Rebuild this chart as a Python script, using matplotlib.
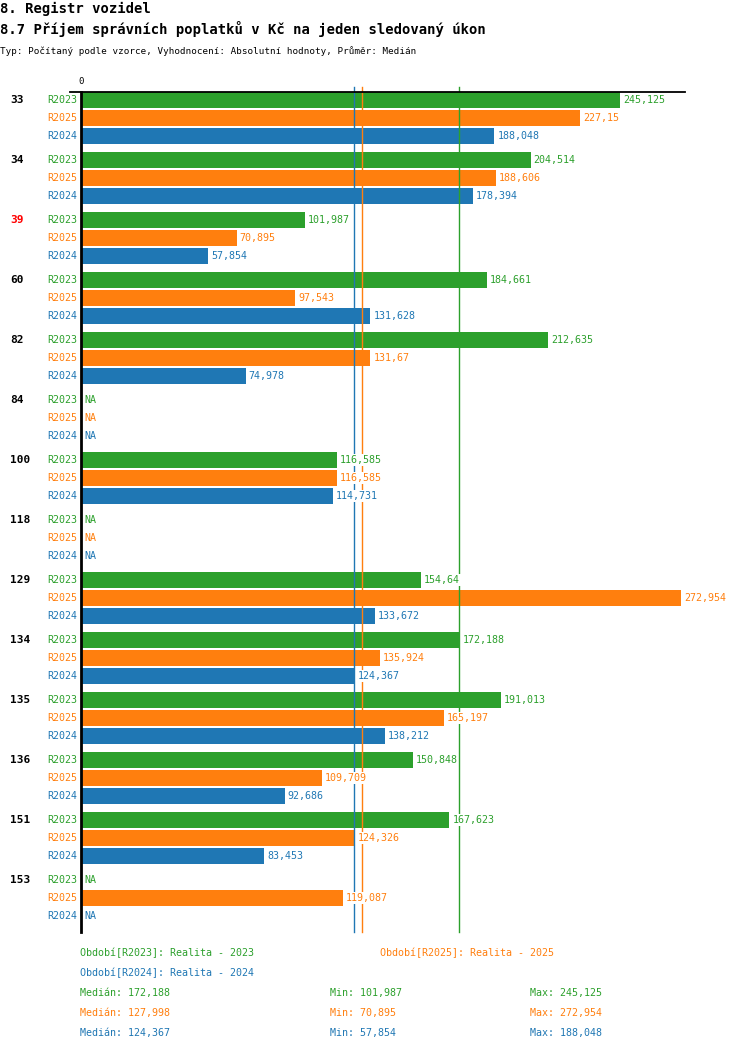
import numpy as np
import matplotlib
matplotlib.use("Agg")
import matplotlib.pyplot as plt
from matplotlib.lines import Line2D
from matplotlib.transforms import blended_transform_factory

# data (NaN = NA)
groups = ["33", "34", "39", "60", "82", "84", "100", "118", "129", "134", "135", "136", "151", "153"]
series = ["R2023", "R2025", "R2024"]
r2023 = [245.125, 204.514, 101.987, 184.661, 212.635, np.nan, 116.585, np.nan, 154.64, 172.188, 191.013, 150.848, 167.623, np.nan]
r2025 = [227.15, 188.606, 70.895, 97.543, 131.67, np.nan, 116.585, np.nan, 272.954, 135.924, 165.197, 109.709, 124.326, 119.087]
r2024 = [188.048, 178.394, 57.854, 131.628, 74.978, np.nan, 114.731, np.nan, 133.672, 124.367, 138.212, 92.686, 83.453, np.nan]
legend_names = ["Období[R2023]: Realita - 2023", "Období[R2025]: Realita - 2025", "Období[R2024]: Realita - 2024"]
highlight = "39"

colors = {"R2023": "#2ca02c", "R2025": "#ff7f0e", "R2024": "#1f77b4"}
values = {"R2023": r2023, "R2025": r2025, "R2024": r2024}
mono = "DejaVu Sans Mono"

W, H = 750, 1052
fig = plt.figure(figsize=(W / 100, H / 100), dpi=100)


def fmt(v):
    s = f"{v:.3f}".rstrip("0").rstrip(".")
    return s.replace(".", ",")


# axes placed in pixel terms
ax_l, ax_r, ax_t, ax_b = 81, 685, 92, 932
ax = fig.add_axes([ax_l / W, 1 - ax_b / H, (ax_r - ax_l) / W, (ax_b - ax_t) / H])
scale = 600 / 272.954  # px per unit
ax.set_xlim(0, (ax_r - ax_l) / scale)
ax.set_ylim(ax_b - 100, ax_t - 100)
for s in ["top", "right", "bottom"]:
    ax.spines[s].set_visible(False)
ax.spines["left"].set_linewidth(2)
ax.spines["left"].set_zorder(5)
ax.set_xticks([])
ax.set_yticks([])

group_tr = blended_transform_factory(fig.transFigure, ax.transData)

for gi, g in enumerate(groups):
    base = gi * 60
    ax.text(10 / W, base, g, transform=group_tr, ha="left", va="center",
            fontsize=8, fontweight="bold", family=mono,
            color="#ff0000" if g == highlight else "black")
    for si, s in enumerate(series):
        y = base + si * 18
        v = values[s][gi]
        c = colors[s]
        ax.annotate(s, xy=(0, y), xytext=(-4, 0), textcoords="offset pixels",
                    ha="right", va="center", fontsize=7.2, family=mono, color=c,
                    annotation_clip=False)
        if np.isnan(v):
            ax.annotate("NA", xy=(0, y), xytext=(3, 0), textcoords="offset pixels",
                        ha="left", va="center", fontsize=7.2, family=mono, color=c,
                        zorder=4, bbox=dict(facecolor="white", edgecolor="none", pad=0.5))
        else:
            ax.barh(y, v, height=16, color=c, zorder=1)
            ax.annotate(fmt(v), xy=(v, y), xytext=(3, 0), textcoords="offset pixels",
                        ha="left", va="center", fontsize=7.2, family=mono, color=c,
                        zorder=4, annotation_clip=False,
                        bbox=dict(facecolor="white", edgecolor="none", pad=0.5))

# median lines
for s in series:
    med = np.nanmedian(values[s])
    ax.plot([med, med], [ax_t - 100 - 5, ax_b - 100], color=colors[s], lw=1,
            zorder=2, clip_on=False)

# top axis line and zero label
fig.add_artist(Line2D([70 / W, ax_r / W], [1 - ax_t / H, 1 - ax_t / H], color="black", lw=1.3))
fig.text(ax_l / W, 1 - 81 / H, "0", ha="center", va="center", fontsize=6.5, family=mono)

# titles
fig.text(0, 1 - 12.5 / H, "8. Registr vozidel", ha="left", va="baseline",
         fontsize=10, fontweight="bold", family=mono)
fig.text(0, 1 - 34 / H, "8.7 Příjem správních poplatků v Kč na jeden sledovaný úkon",
         ha="left", va="baseline", fontsize=10, fontweight="bold", family=mono)
fig.text(0, 1 - 54.5 / H, "Typ: Počítaný podle vzorce, Vyhodnocení: Absolutní hodnoty, Průměr: Medián",
         ha="left", va="baseline", fontsize=6.7, family=mono)

# footer legend
fig.text(80 / W, 1 - 953 / H, legend_names[0], ha="left", va="center", fontsize=7.2, family=mono, color=colors["R2023"])
fig.text(380 / W, 1 - 953 / H, legend_names[1], ha="left", va="center", fontsize=7.2, family=mono, color=colors["R2025"])
fig.text(80 / W, 1 - 973 / H, legend_names[2], ha="left", va="center", fontsize=7.2, family=mono, color=colors["R2024"])

for i, s in enumerate(series):
    yy = 1 - (993 + i * 20) / H
    arr = values[s]
    c = colors[s]
    fig.text(80 / W, yy, f"Medián: {fmt(np.nanmedian(arr))}", ha="left", va="center", fontsize=7.2, family=mono, color=c)
    fig.text(330 / W, yy, f"Min: {fmt(np.nanmin(arr))}", ha="left", va="center", fontsize=7.2, family=mono, color=c)
    fig.text(530 / W, yy, f"Max: {fmt(np.nanmax(arr))}", ha="left", va="center", fontsize=7.2, family=mono, color=c)

fig.savefig("out.png", dpi=100, facecolor="white")
